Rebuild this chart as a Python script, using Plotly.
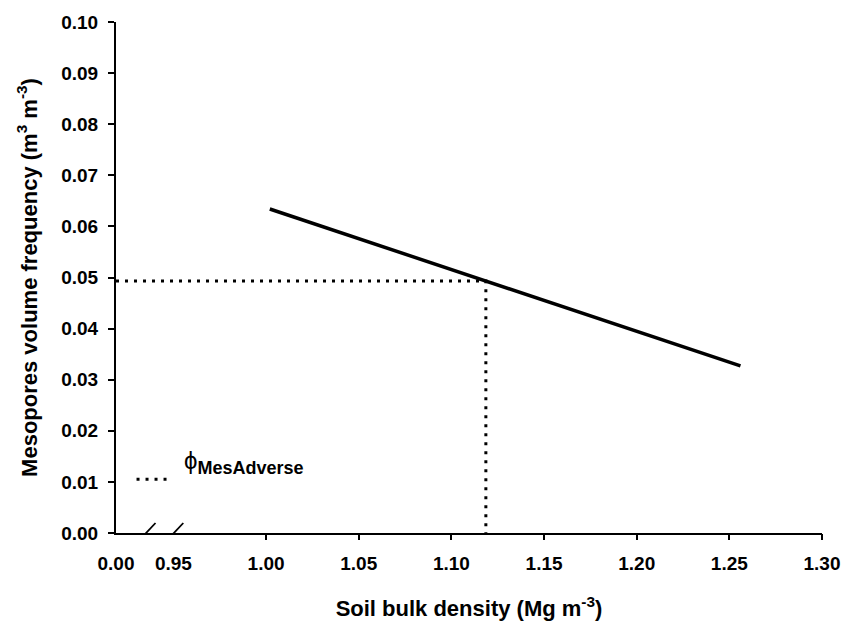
import plotly.graph_objects as go

# ---- data ----
bulk_density = [1.002, 1.256]          # Mg m-3 (regression line ends)
mesopores = [0.0634, 0.0327]           # m3 m-3
threshold_bd = 1.1186                  # bulk density at adverse mesopore level
threshold_meso = 0.0493                # phi MesAdverse
axis_start = 0.919                     # broken-axis origin (labelled 0.00)
break_marks = [0.936, 0.951]           # positions of the // axis-break marks
x_tickvals = [axis_start, 0.95, 1.00, 1.05, 1.10, 1.15, 1.20, 1.25, 1.30]
x_ticktext = ["0.00", "0.95", "1.00", "1.05", "1.10", "1.15", "1.20", "1.25", "1.30"]
x_major = [1.00, 1.05, 1.10, 1.15, 1.20, 1.25, 1.30]
y_tickvals = [0.00, 0.01, 0.02, 0.03, 0.04, 0.05, 0.06, 0.07, 0.08, 0.09, 0.10]
legend_label = "ϕ<sub><span style='font-size:18px'><b>MesAdverse</b></span></sub>"

FONT = "Liberation Sans, Arial, sans-serif"

fig = go.Figure()

fig.add_trace(go.Scatter(
    x=bulk_density, y=mesopores, mode="lines",
    line=dict(color="black", width=3.5), showlegend=False, hoverinfo="skip"))

fig.add_trace(go.Scatter(
    x=[axis_start, threshold_bd, threshold_bd],
    y=[threshold_meso, threshold_meso, 0.0],
    mode="lines",
    line=dict(color="black", width=3, dash="3px,6px"),
    name=" ",
    showlegend=True, hoverinfo="skip"))

# invisible trace on the secondary x axis for tick marks only
fig.add_trace(go.Scatter(x=x_major, y=[None] * len(x_major), xaxis="x2",
                         showlegend=False, hoverinfo="skip"))

for bm in break_marks:
    fig.add_shape(type="line", xref="x", yref="y",
                  xsizemode="pixel", xanchor=bm, x0=-8, x1=8,
                  ysizemode="pixel", yanchor=0, y0=-7, y1=10,
                  line=dict(color="black", width=1.8))

fig.add_annotation(text=legend_label, xref="paper", yref="paper",
                   x=0.094, y=0.138, xanchor="left", yanchor="middle",
                   showarrow=False, font=dict(size=24, family=FONT, color="black"))

fig.update_layout(
    width=852, height=630,
    margin=dict(l=116, r=20, t=20, b=97),
    paper_bgcolor="white", plot_bgcolor="white",
    font=dict(family=FONT, color="black"),
    xaxis=dict(
        range=[axis_start, 1.30], tickvals=x_tickvals, ticktext=x_ticktext,
        ticks="", showline=True, linecolor="black", linewidth=2,
        showgrid=False, zeroline=False,
        tickfont=dict(size=19, family=FONT, weight="bold"),
        ticklabelstandoff=12,
        title=dict(text="<b>Soil bulk density (Mg m<sup>-3</sup>)</b>",
                   font=dict(size=22, family=FONT), standoff=28),
    ),
    xaxis2=dict(
        range=[axis_start, 1.30], overlaying="x", anchor="y", side="bottom",
        tickvals=x_major, ticks="outside", ticklen=6, tickwidth=2,
        tickcolor="black", showticklabels=False, showgrid=False,
        zeroline=False, showline=False,
    ),
    yaxis=dict(
        range=[0, 0.10], tickvals=y_tickvals, tickformat=".2f",
        ticks="outside", ticklen=6, tickwidth=2, tickcolor="black",
        showline=True, linecolor="black", linewidth=2,
        showgrid=False, zeroline=False,
        tickfont=dict(size=19, family=FONT, weight="bold"),
        ticklabelstandoff=6,
        title=dict(text="<b>Mesopores volume frequency (m<sup>3</sup> m<sup>-3</sup>)</b>",
                   font=dict(size=22, family=FONT), standoff=18),
    ),
    legend=dict(x=0.022, y=0.146, xanchor="left", yanchor="top",
                bgcolor="rgba(0,0,0,0)", font=dict(size=22, family=FONT)),
)

fig.write_html("out.html")
